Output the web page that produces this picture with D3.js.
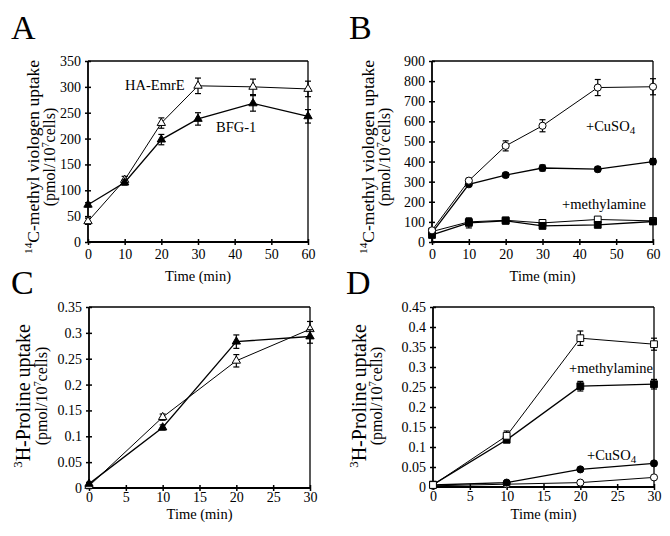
<!DOCTYPE html>
<html><head><meta charset="utf-8">
<script src="https://cdn.jsdelivr.net/npm/d3@7/dist/d3.min.js"></script>
<style>
html,body{margin:0;padding:0;background:#fff;}
svg text{font-family:"Liberation Serif","Times New Roman",serif;fill:#000;font-weight:normal;}
</style></head>
<body><svg id="fig" width="670" height="536"></svg>
<script>
// ---------- DATA ----------
const timeAB = [0, 10, 20, 30, 45, 60];
const timeCD = [0, 10, 20, 30];

// Panel A: 14C-methyl viologen uptake
const aHaEmrE    = [40, 120, 230, 302, 300, 296];
const aHaEmrEErr = [6, 7, 10, 15, 15, 15];
const aBfg1      = [72, 115, 198, 238, 268, 243];
const aBfg1Err   = [4, 5, 10, 12, 15, 13];

// Panel B
const bOpenCircle      = [58, 305, 478, 578, 768, 772];
const bOpenCircleErr   = [8, 12, 25, 30, 40, 40];
const bFilledCircle    = [45, 287, 333, 368, 362, 400];
const bFilledCircleErr = [6, 10, 12, 15, 12, 15];
const bOpenSquare      = [52, 100, 108, 95, 112, 105];
const bOpenSquareErr   = [6, 10, 10, 10, 10, 10];
const bFilledSquare    = [35, 95, 105, 80, 85, 102];
const bFilledSquareErr = [5, 25, 12, 8, 8, 10];

// Panel C: 3H-Proline uptake
const cFilledTri    = [0.008, 0.117, 0.283, 0.293];
const cFilledTriErr = [0.003, 0.005, 0.013, 0.013];
const cOpenTri      = [0.004, 0.137, 0.246, 0.307];
const cOpenTriErr   = [0.003, 0.006, 0.012, 0.015];

// Panel D
const dOpenSquare      = [0.005, 0.128, 0.372, 0.357];
const dOpenSquareErr   = [0.003, 0.012, 0.018, 0.015];
const dFilledSquare    = [0.006, 0.118, 0.252, 0.257];
const dFilledSquareErr = [0.003, 0.005, 0.012, 0.012];
const dFilledCircle    = [0.005, 0.011, 0.044, 0.059];
const dFilledCircleErr = [0.002, 0.002, 0.003, 0.003];
const dOpenCircle      = [0.003, 0.007, 0.011, 0.024];
const dOpenCircleErr   = [0.002, 0.002, 0.002, 0.003];

// Tick values
const ticksA_y = [0, 50, 100, 150, 200, 250, 300, 350];
const ticksB_y = [0, 100, 200, 300, 400, 500, 600, 700, 800, 900];
const ticksAB_x = [0, 10, 20, 30, 40, 50, 60];
const ticksC_y = [0, 0.05, 0.1, 0.15, 0.2, 0.25, 0.3, 0.35];
const ticksD_y = [0, 0.05, 0.1, 0.15, 0.2, 0.25, 0.3, 0.35, 0.4, 0.45];
const ticksCD_x = [0, 5, 10, 15, 20, 25, 30];

// ---------- LAYOUT ----------
const svg = d3.select("#fig");

const panels = [
  {letter:"A", lx:11, ly:39, x0:88, x1:308, yT:61, yB:242, xd:[0,60], yd:[0,350],
   xt:ticksAB_x, yt:ticksA_y, iso:"14", ylab1:"C-methyl viologen uptake", l1x:39, l2x:55, yc:157, ls1:17.5, ls2:16,
   xPad:4, xTitleY:281,
   series:[
     {t:timeAB, v:aHaEmrE, e:aHaEmrEErr, sym:"tri", fill:false},
     {t:timeAB, v:aBfg1, e:aBfg1Err, sym:"tri", fill:true}
   ],
   labels:[{x:125, y:90, txt:"HA-EmrE"}, {x:216, y:131.5, txt:"BFG-1"}]},
  {letter:"B", lx:349, ly:39, x0:432, x1:653, yT:61, yB:242, xd:[0,60], yd:[0,900],
   xt:ticksAB_x, yt:ticksB_y, iso:"14", ylab1:"C-methyl viologen uptake", l1x:374, l2x:390, yc:157, ls1:17.5, ls2:16,
   xPad:4, xTitleY:281,
   series:[
     {t:timeAB, v:bOpenSquare, e:bOpenSquareErr, sym:"sq", fill:false},
     {t:timeAB, v:bFilledSquare, e:bFilledSquareErr, sym:"sq", fill:true},
     {t:timeAB, v:bFilledCircle, e:bFilledCircleErr, sym:"circ", fill:true},
     {t:timeAB, v:bOpenCircle, e:bOpenCircleErr, sym:"circ", fill:false}
   ],
   labels:[{x:586, y:131, txt:"+CuSO", sub:"4"}, {x:562, y:209, txt:"+methylamine"}]},
  {letter:"C", lx:11, ly:294, x0:89, x1:310, yT:307, yB:488, xd:[0,30], yd:[0,0.35],
   xt:ticksCD_x, yt:ticksC_y, iso:"3", ylab1:"H-Proline uptake", l1x:30, l2x:47, yc:396, ls1:20, ls2:16,
   xPad:1, xTitleY:519,
   series:[
     {t:timeCD, v:cOpenTri, e:cOpenTriErr, sym:"tri", fill:false},
     {t:timeCD, v:cFilledTri, e:cFilledTriErr, sym:"tri", fill:true}
   ],
   labels:[]},
  {letter:"D", lx:346, ly:294, x0:433, x1:654, yT:307, yB:487, xd:[0,30], yd:[0,0.45],
   xt:ticksCD_x, yt:ticksD_y, iso:"3", ylab1:"H-Proline uptake", l1x:366, l2x:382, yc:396, ls1:20, ls2:16,
   xPad:1, xTitleY:519,
   series:[
     {t:timeCD, v:dOpenCircle, e:dOpenCircleErr, sym:"circ", fill:false},
     {t:timeCD, v:dFilledCircle, e:dFilledCircleErr, sym:"circ", fill:true},
     {t:timeCD, v:dFilledSquare, e:dFilledSquareErr, sym:"sq", fill:true},
     {t:timeCD, v:dOpenSquare, e:dOpenSquareErr, sym:"sq", fill:false}
   ],
   labels:[{x:569, y:373, txt:"+methylamine"}, {x:587, y:460, txt:"+CuSO", sub:"4"}]}
];

function fmt(v){ return String(+v.toFixed(2)); }

const symbols = {
  tri: d3.symbol().type(d3.symbolTriangle).size(30),
  sq:  d3.symbol().type(d3.symbolSquare).size(46),
  circ:d3.symbol().type(d3.symbolCircle).size(40)
};

panels.forEach(p => {
  const g = svg.append("g");
  const x = d3.scaleLinear().domain(p.xd).range([p.x0, p.x1]);
  const y = d3.scaleLinear().domain(p.yd).range([p.yB, p.yT]);

  // panel letter
  g.append("text").attr("x", p.lx).attr("y", p.ly).attr("font-size", 34).text(p.letter);

  // frame
  g.append("line").attr("x1", p.x0).attr("x2", p.x1).attr("y1", p.yT).attr("y2", p.yT)
    .attr("stroke", "#000").attr("stroke-width", 1.3);
  g.append("line").attr("x1", p.x1).attr("x2", p.x1).attr("y1", p.yT).attr("y2", p.yB)
    .attr("stroke", "#000").attr("stroke-width", 1.3);

  // axes
  const yAxis = d3.axisLeft(y).tickValues(p.yt).tickSize(3).tickPadding(4).tickFormat(fmt);
  const xAxis = d3.axisBottom(x).tickValues(p.xt).tickSize(3).tickPadding(p.xPad).tickFormat(fmt);
  const ya = g.append("g").attr("transform", `translate(${p.x0},0)`).call(yAxis);
  const xa = g.append("g").attr("transform", `translate(0,${p.yB})`).call(xAxis);
  [ya, xa].forEach(a => {
    a.select(".domain").attr("stroke-width", 1.8);
    a.selectAll(".tick line").attr("stroke-width", 1.5);
    a.selectAll(".tick text").attr("font-size", 14)
      .attr("font-family", '"Liberation Serif","Times New Roman",serif');
  });
  // inward half of ticks
  ya.selectAll(".tick").append("line").attr("x1", 0).attr("x2", 3).attr("stroke", "#000").attr("stroke-width", 1.5);
  xa.selectAll(".tick").append("line").attr("y1", 0).attr("y2", -3).attr("stroke", "#000").attr("stroke-width", 1.5);
  ya.select(".domain").attr("d", `M0,${p.yT}V${p.yB}`);
  xa.select(".domain").attr("d", `M${p.x0},0H${p.x1}`);

  // x title
  g.append("text").attr("x", (p.x0 + p.x1) / 2).attr("y", p.xTitleY)
    .attr("text-anchor", "middle").attr("font-size", 14.5).text("Time (min)");

  // y title line 1
  const t1 = g.append("text").attr("transform", `translate(${p.l1x},${p.yc}) rotate(-90)`)
    .attr("text-anchor", "middle").attr("font-size", p.ls1);
  t1.append("tspan").attr("font-size", p.ls1 * 0.65).attr("dy", -p.ls1 * 0.38).text(p.iso);
  t1.append("tspan").attr("dy", p.ls1 * 0.38).text(p.ylab1);
  // y title line 2
  const t2 = g.append("text").attr("transform", `translate(${p.l2x},${p.yc}) rotate(-90)`)
    .attr("text-anchor", "middle").attr("font-size", p.ls2);
  t2.append("tspan").text("(pmol/10");
  t2.append("tspan").attr("font-size", p.ls2 * 0.65).attr("dy", -p.ls2 * 0.38).text("7");
  t2.append("tspan").attr("dy", p.ls2 * 0.38).text("cells)");

  // series
  p.series.forEach(s => {
    const pts = s.t.map((t, i) => ({t, v: s.v[i], e: s.e[i]}));
    const line = d3.line().x(d => x(d.t)).y(d => y(d.v));
    g.append("path").datum(pts).attr("d", line).attr("fill", "none")
      .attr("stroke", "#000").attr("stroke-width", s.fill ? 1.3 : 1);
    const eb = g.append("g");
    pts.forEach(d => {
      const cx = x(d.t), ylo = y(d.v - d.e), yhi = y(d.v + d.e);
      eb.append("line").attr("x1", cx).attr("x2", cx).attr("y1", ylo).attr("y2", yhi)
        .attr("stroke", "#000").attr("stroke-width", 1.2);
      [ylo, yhi].forEach(yy => eb.append("line").attr("x1", cx - 3).attr("x2", cx + 3)
        .attr("y1", yy).attr("y2", yy).attr("stroke", "#000").attr("stroke-width", 1.2));
    });
    g.append("g").selectAll("path").data(pts).join("path")
      .attr("d", symbols[s.sym])
      .attr("transform", d => `translate(${x(d.t)},${y(d.v)})`)
      .attr("fill", s.fill ? "#000" : "#fff")
      .attr("stroke", "#000").attr("stroke-width", 1);
  });

  // labels
  p.labels.forEach(l => {
    const t = g.append("text").attr("x", l.x).attr("y", l.y).attr("font-size", 14.5);
    t.append("tspan").text(l.txt);
    if (l.sub) t.append("tspan").attr("font-size", 11).attr("dy", 3).text(l.sub);
  });
});
</script></body></html>
